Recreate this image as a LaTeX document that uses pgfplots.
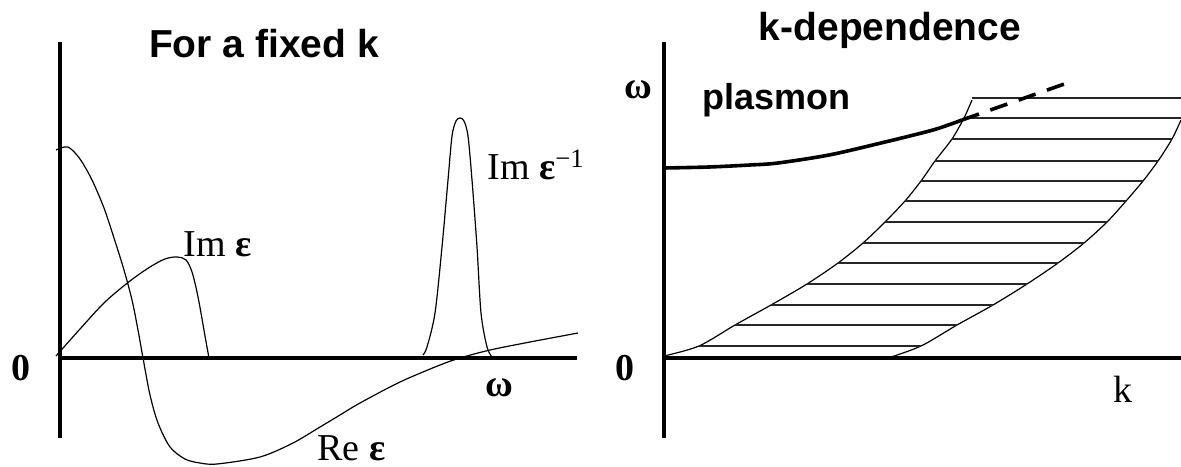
\documentclass[border=0pt]{standalone}
\usepackage{fontspec}
\setmainfont{Liberation Serif}
\setsansfont{Liberation Sans}
\usepackage{pgfplots}
\pgfplotsset{compat=1.18}

% one data unit = 0.5pt = one reference pixel
\pgfplotsset{panel/.style={
  scale only axis, clip=false,
  axis lines*=middle,
  axis line style={-, line width=2pt},
  xtick=\empty, ytick=\empty,
  ymin=-80, ymax=316,
  height=198pt,
}}

\begin{document}
\begin{tikzpicture}[x=1pt,y=1pt]
\useasboundingbox (0,0) rectangle (590.5,233);

% ---- left: for a fixed k
\begin{axis}[panel, xmin=-2, xmax=517, width=259.5pt,
  at={(29pt,14pt)}, anchor=south west]
% Re eps
\addplot[black, line width=0.6pt, smooth, tension=0.5] coordinates {
  (-4,208) (8,211) (20,199) (32,178) (44,150) (54,120) (64,88) (72,58)
  (78,28) (83,0) (90,-37) (98,-65) (110,-89) (125,-101) (140,-105)
  (157,-106) (200,-99) (233,-85) (260,-69) (280,-57) (300,-45)
  (340,-24) (380,-7) (400,0) (430,8) (470,16) (518,25)};
% Im eps
\addplot[black, line width=0.6pt, smooth, tension=0.55] coordinates {
  (-4,2) (20,29) (45,56) (70,77) (90,91) (105,99) (117,101) (126,98)
  (132,86) (137,66) (141,45) (145,22) (149,0)};
% Im eps^-1
\addplot[black, line width=0.6pt, smooth, tension=0.5] coordinates {
  (363,3) (367,11) (375,45) (382,111) (388,178) (392,222) (396,237)
  (400,240) (404,237) (408,222) (412,178) (417,111) (421,45) (427,11) (432,1)};
\end{axis}

% ---- right: k-dependence
\begin{axis}[panel, xmin=0, xmax=517, width=258.5pt,
  at={(332pt,14pt)}, anchor=south west]
% continuum boundaries
\addplot[black, line width=0.6pt, smooth] coordinates {
  (0,2) (35,12) (71,33) (107,53) (143,74) (174,95) (199,115) (221,136)
  (241,157) (257,177) (271,197) (288,219) (300,240) (308,258)};
\addplot[black, line width=0.6pt, smooth] coordinates {
  (224,0) (257,12) (293,33) (329,53) (363,74) (394,95) (420,115)
  (443,136) (462,157) (479,177) (494,197) (508,219) (517,238)};
% hatching
\addplot[black!85, line width=0.6pt, unbounded coords=jump] coordinates {
  (35,12) (257,12) (0,nan) (71,33) (293,33) (0,nan)
  (107,53) (329,53) (0,nan) (143,74) (363,74) (0,nan)
  (174,95) (394,95) (0,nan) (199,115) (420,115) (0,nan)
  (221,136) (443,136) (0,nan) (241,157) (462,157) (0,nan)
  (257,177) (479,177) (0,nan) (271,197) (494,197) (0,nan)
  (288,219) (508,219) (0,nan) (300,240) (517,240) (0,nan)
  (308,260) (517,260)};
% plasmon
\addplot[black, line width=1.8pt, smooth] coordinates {
  (0,190) (45,191) (86,193) (114,195) (165,203) (217,215) (269,228) (298,238)};
\addplot[black, line width=1.8pt, dash pattern=on 9pt off 6pt] coordinates {
  (298,238) (406,276)};
\end{axis}

% ---- text
\node[font=\sffamily\bfseries\fontsize{19.5}{22}\selectfont] at (132,211) {For a fixed k};
\node[font=\sffamily\bfseries\fontsize{19.5}{22}\selectfont] at (445,218) {k-dependence};
\node[font=\sffamily\bfseries\fontsize{18}{21}\selectfont, anchor=base west, inner sep=0pt] at (351,178) {plasmon};
\node[font=\fontsize{19}{22}\selectfont\bfseries] at (10.5,49) {0};
\node[font=\fontsize{19}{22}\selectfont\bfseries] at (249.5,39) {ω};
\node[font=\fontsize{19}{22}\selectfont, anchor=base west, inner sep=0pt] at (158.5,3) {Re \textbf{ε}};
\node[font=\fontsize{19}{22}\selectfont, anchor=base west, inner sep=0pt] at (91.5,105) {Im \textbf{ε}};
\node[font=\fontsize{19}{22}\selectfont, anchor=base west, inner sep=0pt] at (243.5,143) {Im \textbf{ε}\textsuperscript{−1}};
\node[font=\fontsize{19}{22}\selectfont\bfseries] at (312.5,49) {0};
\node[font=\fontsize{19}{22}\selectfont\bfseries] at (319,188) {ω};
\node[font=\fontsize{19}{22}\selectfont, anchor=base, inner sep=0pt] at (561.5,32) {k};
\end{tikzpicture}
\end{document}
